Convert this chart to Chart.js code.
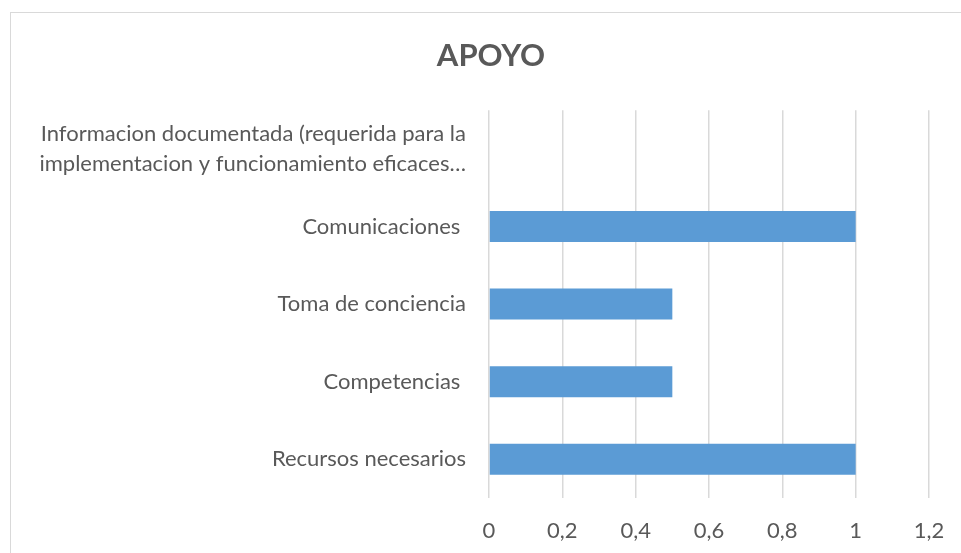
<!DOCTYPE html>
<html>
<head>
<meta charset="utf-8">
<script src="https://cdn.jsdelivr.net/npm/chart.js@4/dist/chart.umd.min.js"></script>
<style>
  body { margin: 0; background: #fff; overflow: hidden; }
  #wrap { position: relative; width: 961px; height: 553px; }
</style>
</head>
<body>
<div id="wrap"><canvas id="canvas" width="961" height="553"></canvas></div>
<script>
const categories = [
  ['Informacion documentada (requerida para la', 'implementacion y funcionamiento eficaces…'],
  'Comunicaciones ',
  'Toma de conciencia',
  'Competencias ',
  'Recursos necesarios',
];
const values = [0, 1, 0.5, 0.5, 1];
const xTickLabels = ['0', '0,2', '0,4', '0,6', '0,8', '1', '1,2'];

const ctx = document.getElementById('canvas');

// light frame around the chart, cut off at the right and bottom
const frame = {
  id: 'frame',
  beforeDraw(chart) {
    const c = chart.ctx;
    c.save();
    c.strokeStyle = '#d9d9d9';
    c.lineWidth = 1;
    c.strokeRect(10.5, 12.5, 2000, 2000);
    c.restore();
  },
};

let myChart = new Chart(ctx, {
  type: 'bar',
  data: {
    labels: categories,
    datasets: [
      {
        data: values,
        backgroundColor: '#5b9bd5',
        borderWidth: 0,
        categoryPercentage: 1,
        barPercentage: 0.4,
      },
    ],
  },
  plugins: [frame],
  options: {
    indexAxis: 'y',
    responsive: false,
    animation: false,
    layout: {
      padding: { top: 0, right: 0, bottom: 0, left: 21 },
    },
    plugins: {
      legend: { display: false },
      tooltip: { enabled: false },
      title: {
        display: true,
        text: 'APOYO',
        color: '#595959',
        font: { family: 'Lato', size: 31, weight: 'bold' },
        padding: { top: 37, bottom: 36 },
      },
    },
    scales: {
      x: {
        min: 0,
        max: 1.2,
        afterFit: (scale) => {
          scale.height = 55;
          scale.paddingRight = 0;
          scale.paddingLeft = 0;
        },
        ticks: {
          stepSize: 0.2,
          color: '#595959',
          padding: 20,
          font: { family: 'Lato', size: 22 },
          callback: (v, i) => xTickLabels[i],
        },
        grid: { color: '#d9d9d9', lineWidth: 1.5, drawTicks: false },
        border: { display: false },
      },
      y: {
        afterFit: (scale) => {
          scale.width = 468;
          scale.paddingTop = 0;
          scale.paddingBottom = 0;
        },
        ticks: {
          color: '#595959',
          padding: 23,
          font: { family: 'Lato', size: 22, lineHeight: 1.4 },
        },
        grid: { display: false, drawTicks: false },
        border: { display: false },
      },
      // empty strip on the right so the plot ends before the frame edge
      yRight: {
        position: 'right',
        afterFit: (scale) => {
          scale.width = 32;
          scale.paddingTop = 0;
          scale.paddingBottom = 0;
        },
        ticks: { display: false },
        grid: { display: false, drawTicks: false },
        border: { display: false },
      },
    },
  },
});
</script>
</body>
</html>
